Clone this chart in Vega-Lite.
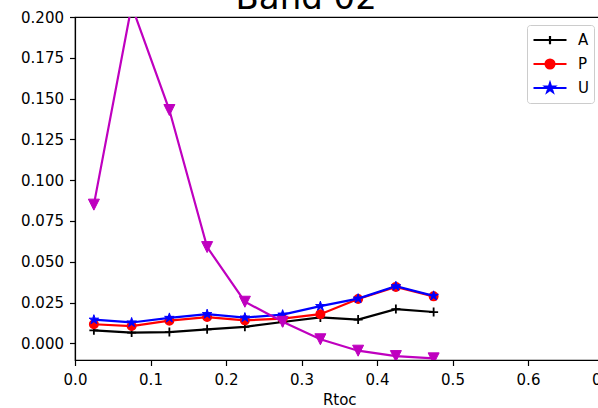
{
  "$schema": "https://vega.github.io/schema/vega-lite/v6.json",
  "autosize": {"type": "none"},
  "padding": {"left": 75, "top": 17, "right": 10, "bottom": 48},
  "width": 528.5,
  "height": 343,
  "background": "white",
  "title": {
    "text": "Band 02",
    "anchor": "start",
    "frame": "group",
    "dx": 160.5,
    "dy": 33,
    "fontSize": 34,
    "font": "DejaVu Sans",
    "fontWeight": "normal",
    "color": "black",
    "baseline": "alphabetic",
    "offset": 0
  },
  "data": {
    "values": [
      {"r": 0.025, "s": "A", "v": 0.0080},
      {"r": 0.075, "s": "A", "v": 0.0066},
      {"r": 0.125, "s": "A", "v": 0.0069},
      {"r": 0.175, "s": "A", "v": 0.0086},
      {"r": 0.225, "s": "A", "v": 0.0101},
      {"r": 0.275, "s": "A", "v": 0.0131},
      {"r": 0.325, "s": "A", "v": 0.0159},
      {"r": 0.375, "s": "A", "v": 0.0146},
      {"r": 0.425, "s": "A", "v": 0.0210},
      {"r": 0.475, "s": "A", "v": 0.0192},
      {"r": 0.025, "s": "P", "v": 0.0117},
      {"r": 0.075, "s": "P", "v": 0.0106},
      {"r": 0.125, "s": "P", "v": 0.0139},
      {"r": 0.175, "s": "P", "v": 0.0161},
      {"r": 0.225, "s": "P", "v": 0.0141},
      {"r": 0.275, "s": "P", "v": 0.0151},
      {"r": 0.325, "s": "P", "v": 0.0179},
      {"r": 0.375, "s": "P", "v": 0.0272},
      {"r": 0.425, "s": "P", "v": 0.0346},
      {"r": 0.475, "s": "P", "v": 0.0288},
      {"r": 0.025, "s": "U", "v": 0.0145},
      {"r": 0.075, "s": "U", "v": 0.0128},
      {"r": 0.125, "s": "U", "v": 0.0156},
      {"r": 0.175, "s": "U", "v": 0.0179},
      {"r": 0.225, "s": "U", "v": 0.0158},
      {"r": 0.275, "s": "U", "v": 0.0176},
      {"r": 0.325, "s": "U", "v": 0.0228},
      {"r": 0.375, "s": "U", "v": 0.0274},
      {"r": 0.425, "s": "U", "v": 0.0350},
      {"r": 0.475, "s": "U", "v": 0.0291},
      {"r": 0.025, "s": "M", "v": 0.0850},
      {"r": 0.075, "s": "M", "v": 0.2070},
      {"r": 0.125, "s": "M", "v": 0.1430},
      {"r": 0.175, "s": "M", "v": 0.0590},
      {"r": 0.225, "s": "M", "v": 0.0255},
      {"r": 0.275, "s": "M", "v": 0.0132},
      {"r": 0.325, "s": "M", "v": 0.0025},
      {"r": 0.375, "s": "M", "v": -0.0045},
      {"r": 0.425, "s": "M", "v": -0.0078},
      {"r": 0.475, "s": "M", "v": -0.0092}
    ]
  },
  "encoding": {
    "x": {
      "field": "r",
      "type": "quantitative",
      "scale": {"domain": [0, 0.7], "nice": false, "zero": false},
      "axis": {
        "title": "Rtoc",
        "values": [0, 0.1, 0.2, 0.3, 0.4, 0.5, 0.6, 0.7],
        "format": ".1f",
        "labelPadding": 7,
        "titlePadding": 5
      }
    },
    "y": {
      "field": "v",
      "type": "quantitative",
      "scale": {"domain": [-0.0102, 0.2], "nice": false, "zero": false},
      "axis": {
        "title": null,
        "values": [0, 0.025, 0.05, 0.075, 0.1, 0.125, 0.15, 0.175, 0.2],
        "format": ".3f",
        "labelPadding": 6
      }
    }
  },
  "layer": [
    {
      "transform": [{"filter": "datum.s === 'A'"}],
      "mark": {"type": "line", "strokeWidth": 2.2},
      "encoding": {
        "color": {
          "field": "s",
          "type": "nominal",
          "scale": {"domain": ["A", "P", "U"], "range": ["#000000", "#ff0000", "#0000ff"]},
          "legend": {
            "title": null,
            "orient": "none",
            "legendX": 452,
            "legendY": 8,
            "padding": 5,
            "symbolSize": 1089,
            "clipHeight": 20,
            "rowPadding": 4,
            "labelOffset": 10,
            "labelFontSize": 15,
            "labelFont": "DejaVu Sans",
            "labelColor": "black",
            "fillColor": "white",
            "strokeColor": "#cccccc",
            "cornerRadius": 3,
            "symbolStrokeWidth": 2.2,
            "encode": {
              "symbols": {
                "update": {
                  "shape": {"signal": "datum.value === 'A' ? 'M-1,0H1M0,-0.25V0.25' : datum.value === 'P' ? 'M-1,0H1M0.27,0A0.27,0.27 0 1,1 -0.27,0A0.27,0.27 0 1,1 0.27,0Z' : 'M-1,0H1M0,-0.28L0.063,-0.087L0.266,-0.087L0.102,0.033L0.165,0.227L0,0.107L-0.165,0.227L-0.102,0.033L-0.266,-0.087L-0.063,-0.087Z'"},
                  "fill": {"signal": "datum.value === 'A' ? 'transparent' : datum.value === 'P' ? '#ff0000' : '#0000ff'"},
                  "stroke": {"signal": "datum.value === 'A' ? '#000000' : datum.value === 'P' ? '#ff0000' : '#0000ff'"},
                  "opacity": {"value": 1},
                  "fillOpacity": {"value": 1},
                  "strokeOpacity": {"value": 1}
                }
              }
            }
          }
        }
      }
    },
    {
      "transform": [{"filter": "datum.s === 'A'"}],
      "mark": {"type": "point", "shape": "M-1,0H1M0,-1V1", "size": 81, "filled": false, "strokeWidth": 1.8, "opacity": 1},
      "encoding": {"color": {"field": "s", "type": "nominal"}}
    },
    {
      "transform": [{"filter": "datum.s === 'P'"}],
      "mark": {"type": "line", "strokeWidth": 2.2},
      "encoding": {"color": {"field": "s", "type": "nominal"}}
    },
    {
      "transform": [{"filter": "datum.s === 'P'"}],
      "mark": {"type": "point", "shape": "circle", "size": 72, "filled": true, "stroke": "#ff0000", "strokeWidth": 1.5, "opacity": 1},
      "encoding": {"color": {"field": "s", "type": "nominal"}}
    },
    {
      "transform": [{"filter": "datum.s === 'U'"}],
      "mark": {"type": "line", "strokeWidth": 2.2},
      "encoding": {"color": {"field": "s", "type": "nominal"}}
    },
    {
      "transform": [{"filter": "datum.s === 'U'"}],
      "mark": {"type": "point", "shape": "M0,-1L0.225,-0.309L0.951,-0.309L0.363,0.118L0.588,0.809L0,0.382L-0.588,0.809L-0.363,0.118L-0.951,-0.309L-0.225,-0.309Z", "size": 100, "filled": true, "stroke": "#0000ff", "strokeWidth": 1, "opacity": 1},
      "encoding": {"color": {"field": "s", "type": "nominal"}}
    },
    {
      "transform": [{"filter": "datum.s === 'M'"}],
      "mark": {"type": "line", "strokeWidth": 2.2, "color": "#bf00bf", "clip": true},
      "encoding": {}
    },
    {
      "transform": [{"filter": "datum.s === 'M'"}],
      "mark": {"type": "point", "shape": "M0,1L-1,-1L1,-1Z", "size": 121, "filled": true, "color": "#bf00bf", "stroke": "#bf00bf", "strokeWidth": 1, "opacity": 1, "clip": true},
      "encoding": {}
    }
  ],
  "config": {
    "font": "DejaVu Sans",
    "view": {"stroke": "black", "strokeWidth": 1.2},
    "axis": {
      "grid": false,
      "domainColor": "black",
      "domainWidth": 1.2,
      "tickColor": "black",
      "tickWidth": 1.2,
      "tickSize": 5.5,
      "labelColor": "black",
      "labelFontSize": 15,
      "labelFont": "DejaVu Sans",
      "titleFont": "DejaVu Sans",
      "titleFontSize": 15,
      "titleFontWeight": "normal",
      "titleColor": "black",
      "labelFlush": false,
      "labelOverlap": false
    }
  }
}
